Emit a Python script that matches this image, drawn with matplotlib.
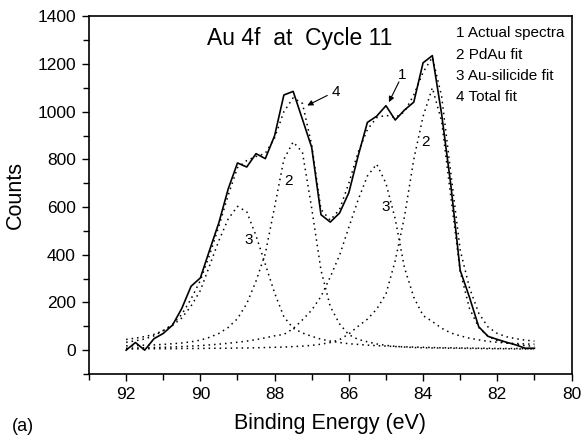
import matplotlib
matplotlib.use('Agg')
import matplotlib.pyplot as plt
from matplotlib.ticker import MultipleLocator

plt.rcParams['font.family'] = ['Liberation Sans', 'DejaVu Sans']

# binding energy grid (eV), 0.25 eV steps
energy = [92.0, 91.75, 91.5, 91.25, 91.0, 90.75, 90.5, 90.25, 90.0, 89.75,
          89.5, 89.25, 89.0, 88.75, 88.5, 88.25, 88.0, 87.75, 87.5, 87.25,
          87.0, 86.75, 86.5, 86.25, 86.0, 85.75, 85.5, 85.25, 85.0, 84.75,
          84.5, 84.25, 84.0, 83.75, 83.5, 83.25, 83.0, 82.75, 82.5, 82.25,
          82.0, 81.75, 81.5, 81.25, 81.0]

# 1 actual spectra
spectrum = [0, 32, 0, 48, 70, 105, 175, 268, 303, 420,
            535, 676, 785, 768, 824, 803, 899, 1070, 1085, 968,
            850, 568, 537, 575, 660, 814, 955, 981, 1025, 965,
            1007, 1040, 1205, 1235, 990, 690, 335, 222, 98, 58,
            45, 33, 22, 8, 8]

# 2 PdAu fit (4f7/2 and 4f5/2)
pdau_a = [18, 19, 21, 22, 24, 27, 30, 35, 42, 54,
          70, 95, 132, 195, 290, 405, 600, 800, 873, 830,
          595, 335, 183, 110, 65, 45, 35, 26, 20, 16,
          13, 11, 10, 9, 9, 8, 8, 7, 7, 6,
          6, 6, 5, 5, 5]
pdau_b = [5, 5, 6, 6, 6, 6, 7, 7, 7, 8,
          8, 8, 9, 9, 10, 11, 12, 13, 15, 17,
          20, 25, 32, 44, 68, 100, 130, 172, 235, 375,
          560, 800, 980, 1100, 960, 640, 330, 175, 95, 58,
          40, 30, 24, 19, 16]

# 3 Au-silicide fit
ausi_a = [33, 39, 47, 60, 82, 104, 135, 185, 250, 355,
          460, 550, 603, 580, 480, 360, 240, 140, 92, 72,
          58, 46, 38, 32, 27, 24, 21, 19, 17, 15,
          14, 13, 12, 11, 10, 10, 9, 9, 8, 8,
          7, 7, 7, 6, 6]
ausi_b = [8, 9, 10, 11, 12, 13, 15, 17, 19, 22,
          25, 29, 33, 38, 44, 52, 60, 66, 90, 127,
          168, 225, 307, 398, 515, 630, 730, 780, 700, 550,
          345, 222, 145, 120, 92, 72, 60, 50, 43, 37,
          33, 30, 28, 26, 25]

# 4 total fit
total_fit = [45, 50, 57, 66, 82, 108, 150, 215, 292, 400,
             520, 650, 765, 795, 812, 825, 890, 1000, 1058, 1035,
             860, 590, 545, 590, 700, 830, 925, 975, 985, 975,
             1000, 1070, 1165, 1228, 1065, 740, 420, 262, 155, 97,
             70, 56, 48, 42, 38]

legend_lines = ['1 Actual spectra', '2 PdAu fit', '3 Au-silicide fit', '4 Total fit']

fig = plt.figure(figsize=(5.81, 4.4), dpi=100)
ax = fig.add_axes([0.1532, 0.15, 0.8305, 0.813])

dot = (0, (1, 2.6))
for comp in [pdau_a, pdau_b, ausi_a, ausi_b, total_fit]:
    ax.plot(energy, comp, color='k', lw=1.1, linestyle=dot)
ax.plot(energy, spectrum, color='k', lw=1.2)

ax.set_xlim(93, 80)
ax.set_ylim(-100, 1400)
ax.xaxis.set_major_locator(MultipleLocator(2))
ax.xaxis.set_minor_locator(MultipleLocator(1))
ax.yaxis.set_major_locator(MultipleLocator(200))
ax.yaxis.set_minor_locator(MultipleLocator(100))
ax.tick_params(which='both', direction='out', top=False, right=False,
               width=1.0, labelsize=12.5, pad=4.5)
ax.tick_params(which='major', length=5)
ax.tick_params(which='minor', length=4)
for s in ax.spines.values():
    s.set_linewidth(1.2)

ax.set_xlabel('Binding Energy (eV)', fontsize=15.5, labelpad=8)
ax.set_ylabel('Counts', fontsize=15.5, labelpad=8)

# curve labels
ax.text(87.62, 709, '2', fontsize=11, ha='center', va='center')
ax.text(83.93, 871, '2', fontsize=11, ha='center', va='center')
ax.text(88.7, 462, '3', fontsize=11, ha='center', va='center')
ax.text(85.01, 600, '3', fontsize=11, ha='center', va='center')
ax.text(86.36, 1082, '4', fontsize=11, ha='center', va='center')
ax.text(84.56, 1153, '1', fontsize=11, ha='center', va='center')
arrow = dict(arrowstyle='-|>', color='k', lw=0.8, mutation_scale=8, shrinkA=0, shrinkB=0)
ax.annotate('', xy=(87.12, 1026), xytext=(86.58, 1068), arrowprops=arrow)
ax.annotate('', xy=(84.92, 1040), xytext=(84.65, 1125), arrowprops=arrow)

fig.text(0.357, 1 - 45 / 440, 'Au 4f  at  Cycle 11', fontsize=16.5, va='baseline')
for i, line in enumerate(legend_lines):
    fig.text(0.785, 1 - (37.5 + 21.2 * i) / 440, line, fontsize=11, va='baseline')
fig.text(0.02, 1 - 426 / 440, '(a)', fontsize=13, va='center')

fig.savefig('out.png', dpi=100)
